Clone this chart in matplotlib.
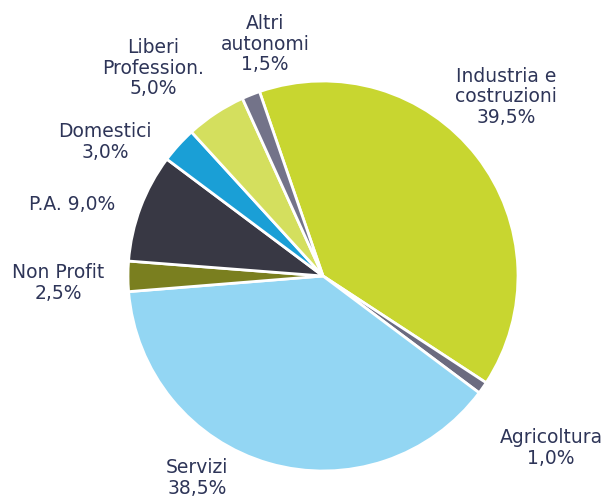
import matplotlib.pyplot as plt

# data, clockwise from the top
sectors = ["Industria e\ncostruzioni", "Agricoltura", "Servizi", "Non Profit",
           "P.A.", "Domestici", "Liberi\nProfession.", "Altri\nautonomi"]
shares = [39.5, 1.0, 38.5, 2.5, 9.0, 3.0, 5.0, 1.5]
pct_labels = ["39,5%", "1,0%", "38,5%", "2,5%", "9,0%", "3,0%", "5,0%", "1,5%"]

colors = ["#c8d630", "#6b6b80", "#93d6f3", "#7a7f1f",
          "#383844", "#1a9fd6", "#d4df5e", "#737389"]

# label centres in pixels (x, y from top-left)
label_px = [(506, 97), (551, 448), (197, 478), (58, 283),
            (72, 205), (105, 142), (153, 68), (265, 44)]

W, H = 610, 501
cx, cy, R = 323, 276, 195

fig = plt.figure(figsize=(W / 100, H / 100), dpi=100)
ax = fig.add_axes([0, 0, 1, 1])
ax.pie(shares, colors=colors, startangle=109, counterclock=False,
       wedgeprops=dict(edgecolor="white", linewidth=2))
ax.set_xlim(-cx / R, (W - cx) / R)
ax.set_ylim(-(H - cy) / R, cy / R)
ax.set_aspect("equal")
ax.axis("off")

for name, pct, (px, py) in zip(sectors, pct_labels, label_px):
    txt = name + " " + pct if name == "P.A." else name + "\n" + pct
    ax.text((px - cx) / R, (cy - py) / R, txt, ha="center", va="center",
            fontsize=13.5, color="#2e3558", family="DejaVu Sans",
            linespacing=1.12)

fig.savefig("out.png", dpi=100)
